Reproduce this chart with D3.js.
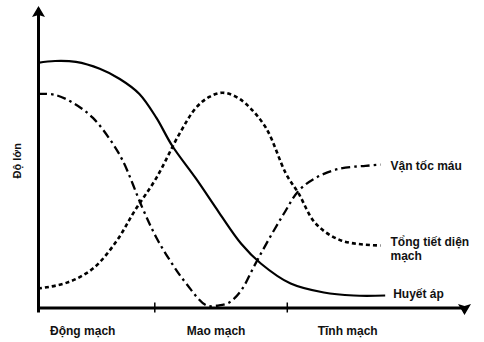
<!DOCTYPE html>
<html><head><meta charset="utf-8">
<script src="https://cdn.jsdelivr.net/npm/d3@7"></script>
<style>body{margin:0;background:#fff}svg{display:block}text{font-family:"Liberation Sans",Arial,sans-serif;font-weight:bold;font-size:12px;fill:#111}</style>
</head><body>
<script>
// Data (x: position along vessel system 0-100, y: magnitude 0-100)
const categories = ["Động mạch", "Mao mạch", "Tĩnh mạch"];
const categoryPos = [10.5, 41.8, 72.7];
const tickPos = [27.3, 58.4];
const yLabel = "Độ lớn";

const huyetApX = [0, 4, 8.9, 14.5, 19.2, 23.8, 27.8, 31.5, 37.1, 42.5, 47.7, 52.3, 59.3, 67.1, 74.1, 81.5];
const huyetApY = [81.7, 82.3, 82, 79.7, 76.3, 71.3, 63.3, 54, 43, 31.7, 21.3, 14.7, 8, 5, 4, 4];

const tietDienX = [0, 6.8, 12.9, 18.5, 22.7, 27.8, 33.2, 37.1, 40.2, 43.2, 46, 48.8, 53.5, 58.2, 61.2, 65.2, 71.3, 80.4];
const tietDienY = [6.3, 8.3, 13, 22.3, 32.3, 43.3, 58, 66.7, 70.3, 71.7, 70.7, 68, 60, 44.7, 38, 28, 22.3, 20.7];

const vanTocX = [0, 4, 8.6, 12.9, 16.8, 19.9, 24.5, 27.8, 31.3, 34.8, 39.5, 42.5, 44.9, 47.7, 50.7, 54, 57.7, 61.2, 65.2, 70.6, 76.9, 80.4];
const vanTocY = [71.3, 71, 68, 63.3, 56.3, 49, 33.3, 23.3, 15, 8, 0.7, 0.7, 1.7, 5.7, 13.7, 22.3, 31.3, 39, 43.3, 46.3, 47.3, 47.7];

const seriesNames = ["Huyết áp", "Tổng tiết diện mạch", "Vận tốc máu"];

const W = 484, H = 342;
const svg = d3.select("body").append("svg").attr("width", W).attr("height", H);
const x = d3.scaleLinear().domain([0, 100]).range([38, 464]);
const y = d3.scaleLinear().domain([0, 100]).range([307.5, 8]);

const defs = svg.append("defs");
defs.append("marker").attr("id", "arr").attr("viewBox", "0 0 11 13")
  .attr("markerUnits", "userSpaceOnUse").attr("markerWidth", 11).attr("markerHeight", 13)
  .attr("refX", 8.5).attr("refY", 6.5).attr("orient", "auto")
  .append("path").attr("d", "M0,0L11,6.5L0,13L2,6.5Z").attr("fill", "#000");

// axes
const gx = svg.append("g").attr("transform", `translate(0,${y(0)})`)
  .call(d3.axisBottom(x).tickValues(tickPos).tickFormat("").tickSizeOuter(0).tickSize(5));
gx.select(".domain").attr("stroke", "#000").attr("stroke-width", 3).attr("marker-end", "url(#arr)");
gx.selectAll(".tick line").attr("y1", -5).attr("y2", 5).attr("stroke", "#000").attr("stroke-width", 1.5);

const gy = svg.append("g").attr("transform", `translate(${x(0)},0)`)
  .call(d3.axisLeft(y).tickValues([]).tickSizeOuter(0));
gy.select(".domain").attr("stroke", "#000").attr("stroke-width", 3).attr("marker-end", "url(#arr)");

// category labels
svg.selectAll(".cat").data(categories).join("text").attr("class", "cat")
  .attr("x", (d, i) => x(categoryPos[i])).attr("y", 334.5).attr("text-anchor", "middle").text(d => d);

svg.append("text").attr("transform", `translate(21,${y(49)}) rotate(-90)`)
  .attr("text-anchor", "middle").style("font-size", "11px").text(yLabel);

const line = d3.line().x(d => x(d[0])).y(d => y(d[1])).curve(d3.curveCatmullRom.alpha(0.5));
const zip = (a, b) => a.map((v, i) => [v, b[i]]);

const series = [
  { pts: zip(huyetApX, huyetApY), dash: null, w: 2.2 },
  { pts: zip(tietDienX, tietDienY), dash: "4,3", w: 2.6 },
  { pts: zip(vanTocX, vanTocY), dash: "9,4,2.5,4", w: 2.3 }
];
series.forEach(s => {
  svg.append("path").attr("d", line(s.pts)).attr("fill", "none").attr("stroke", "#000")
    .attr("stroke-width", s.w).attr("stroke-dasharray", s.dash);
});

// end labels
const endHA = series[0].pts[series[0].pts.length - 1];
svg.append("text").attr("x", x(endHA[0]) + 8).attr("y", y(endHA[1]) + 2).text(seriesNames[0]);
const endVT = series[2].pts[series[2].pts.length - 1];
svg.append("text").attr("x", x(endVT[0]) + 10).attr("y", y(endVT[1]) + 5).text(seriesNames[2]);
const endTD = series[1].pts[series[1].pts.length - 1];
const td = svg.append("text").attr("x", x(endTD[0]) + 10).attr("y", y(endTD[1]) + 0);
td.append("tspan").text("Tổng tiết diện");
td.append("tspan").attr("x", x(endTD[0]) + 10).attr("dy", 14).text("mạch");
</script>
</body></html>
